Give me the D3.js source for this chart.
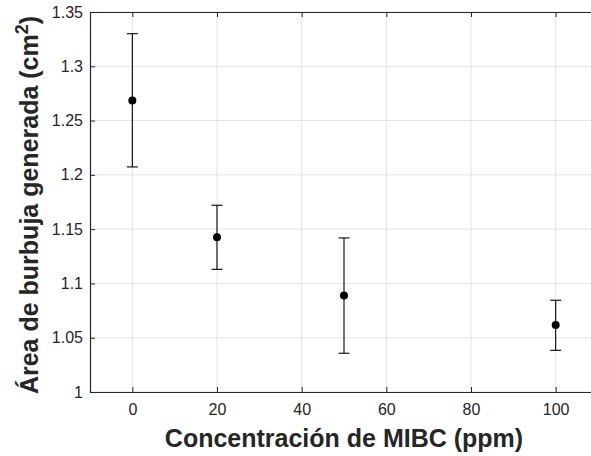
<!DOCTYPE html>
<html>
<head>
<meta charset="utf-8">
<title>MIBC</title>
<style>
  body { margin: 0; background: #fff; }
  svg { display: block; font-family: "Liberation Sans", Arial, sans-serif; }
</style>
</head>
<body>
<svg width="591" height="456"></svg>
<script src="https://d3js.org/d3.v7.min.js"></script>
<script>
// data
var conc = [0, 20, 50, 100];
var area = [1.2686, 1.1425, 1.0888, 1.0618];
var errUp = [1.330, 1.172, 1.1419, 1.0845];
var errLo = [1.2073, 1.113, 1.0357, 1.0384];
var xTicks = [0, 20, 40, 60, 80, 100];
var yTicks = [1, 1.05, 1.1, 1.15, 1.2, 1.25, 1.3, 1.35];

var data = conc.map(function(c, i) {
  return {x: c, y: area[i], hi: errUp[i], lo: errLo[i]};
});

var svg = d3.select("svg"),
    m = {left: 90, top: 12, right: 598, bottom: 392};

var x = d3.scaleLinear().domain([-10, 110]).range([m.left, m.right]);
var y = d3.scaleLinear().domain([1, 1.35]).range([m.bottom, m.top]);

var ink = "#262626";

// grid
svg.append("g").selectAll("line").data(xTicks).join("line")
    .attr("x1", d => x(d)).attr("x2", d => x(d))
    .attr("y1", m.top).attr("y2", m.bottom)
    .attr("stroke", "#e3e3e3").attr("stroke-width", 1);
svg.append("g").selectAll("line").data(yTicks).join("line")
    .attr("x1", m.left).attr("x2", m.right)
    .attr("y1", d => y(d)).attr("y2", d => y(d))
    .attr("stroke", "#e3e3e3").attr("stroke-width", 1);

// axes (ticks inward, box on all sides)
var tick = -5;
svg.append("g")
    .attr("transform", "translate(0," + m.bottom + ")")
    .call(d3.axisBottom(x).tickValues(xTicks).tickSizeInner(tick).tickSizeOuter(0).tickPadding(12));
svg.append("g")
    .attr("transform", "translate(0," + m.top + ")")
    .call(d3.axisTop(x).tickValues(xTicks).tickSizeInner(tick).tickSizeOuter(0).tickFormat(""));
svg.append("g")
    .attr("transform", "translate(" + m.left + ",0)")
    .call(d3.axisLeft(y).tickValues(yTicks).tickSizeInner(tick).tickSizeOuter(0).tickPadding(7)
      .tickFormat(d => String(+d.toFixed(2))));
svg.append("g")
    .attr("transform", "translate(" + m.right + ",0)")
    .call(d3.axisRight(y).tickValues(yTicks).tickSizeInner(tick).tickSizeOuter(0).tickFormat(""));

svg.selectAll(".domain").attr("stroke", ink).attr("stroke-width", 1.2);
svg.selectAll(".tick line").attr("stroke", ink);
svg.selectAll(".tick text")
    .attr("fill", ink)
    .attr("font-size", 16)
    .style("font-size", "16px")
    .style("font-family", "'Liberation Sans', Arial, sans-serif");

// error bars
var eb = svg.append("g").attr("stroke", "#000").attr("stroke-width", 1.1);
eb.selectAll(".v").data(data).join("line")
    .attr("x1", d => x(d.x)).attr("x2", d => x(d.x))
    .attr("y1", d => y(d.hi)).attr("y2", d => y(d.lo));
eb.selectAll(".hi").data(data).join("line")
    .attr("x1", d => x(d.x) - 5.5).attr("x2", d => x(d.x) + 5.5)
    .attr("y1", d => y(d.hi)).attr("y2", d => y(d.hi));
eb.selectAll(".lo").data(data).join("line")
    .attr("x1", d => x(d.x) - 5.5).attr("x2", d => x(d.x) + 5.5)
    .attr("y1", d => y(d.lo)).attr("y2", d => y(d.lo));

svg.append("g").selectAll("circle").data(data).join("circle")
    .attr("cx", d => x(d.x)).attr("cy", d => y(d.y))
    .attr("r", 4).attr("fill", "#000");

// titles
svg.append("text")
    .attr("x", (m.left + m.right) / 2).attr("y", 447)
    .attr("text-anchor", "middle")
    .attr("fill", ink)
    .style("font-size", "25px").style("font-weight", "bold")
    .text("Concentración de MIBC (ppm)");

var yt = svg.append("text")
    .attr("transform", "translate(38,205) rotate(-90)")
    .attr("text-anchor", "middle")
    .attr("fill", ink)
    .style("font-size", "25px").style("font-weight", "bold");
yt.append("tspan").text("Área de burbuja generada (cm");
yt.append("tspan").attr("dy", -10).style("font-size", "18px").text("2");
yt.append("tspan").attr("dy", 10).text(")");
</script>
</body>
</html>
